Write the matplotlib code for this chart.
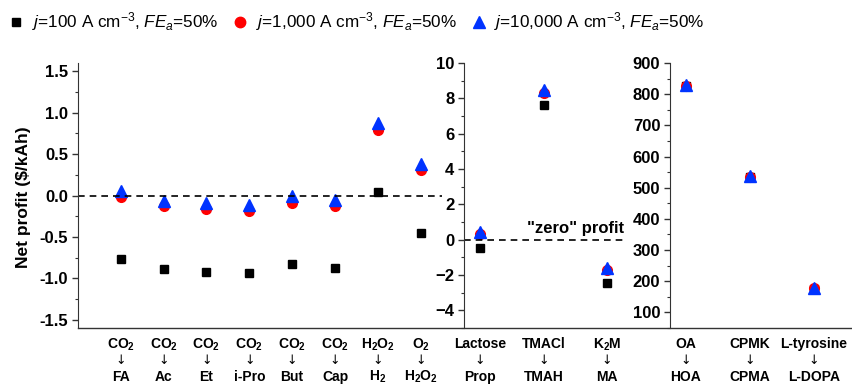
import matplotlib
matplotlib.use('Agg')
import matplotlib.pyplot as plt
from matplotlib.lines import Line2D
from matplotlib.ticker import MultipleLocator, FormatStrFormatter

plt.rcParams['font.family'] = ['Liberation Sans', 'DejaVu Sans']
plt.rcParams['mathtext.fontset'] = 'custom'
plt.rcParams['mathtext.rm'] = 'Liberation Sans'
plt.rcParams['mathtext.it'] = 'Liberation Sans:italic'
plt.rcParams['mathtext.bf'] = 'Liberation Sans:bold'

# panel 1: CO2 / O2 / H2O2 reactions
top1 = [r'$\mathbf{CO_2}$'] * 6 + [r'$\mathbf{H_2O_2}$', r'$\mathbf{O_2}$']
bot1 = ['FA', 'Ac', 'Et', 'i-Pro', 'But', 'Cap', r'$\mathbf{H_2}$', r'$\mathbf{H_2O_2}$']
sq1 = [-0.77, -0.89, -0.92, -0.94, -0.83, -0.88, 0.04, -0.45]
ci1 = [-0.02, -0.13, -0.16, -0.19, -0.085, -0.13, 0.79, 0.31]
tr1 = [0.06, -0.07, -0.085, -0.11, 0.0, -0.05, 0.87, 0.38]

# panel 2
top2 = ['Lactose', 'TMACl', r'$\mathbf{K_2M}$']
bot2 = ['Prop', 'TMAH', 'MA']
sq2 = [-0.45, 7.6, -2.47]
ci2 = [0.3, 8.3, -1.73]
tr2 = [0.43, 8.5, -1.6]

# panel 3
top3 = ['OA', 'CPMK', 'L-tyrosine']
bot3 = ['HOA', 'CPMA', 'L-DOPA']
sq3 = [826, 533, 176]
ci3 = [827, 534, 177]
tr3 = [829, 536, 179]

legend_labels = [r'$\mathit{j}$=100 A cm$^{-3}$, $\mathit{FE_a}$=50%',
                 r'$\mathit{j}$=1,000 A cm$^{-3}$, $\mathit{FE_a}$=50%',
                 r'$\mathit{j}$=10,000 A cm$^{-3}$, $\mathit{FE_a}$=50%']

W, H = 852, 386
fig = plt.figure(figsize=(W / 100, H / 100), dpi=100)
bottom = (H - 328) / H
height = (328 - 63) / H
ax1 = fig.add_axes([78 / W, bottom, (442 - 78) / W, height])
ax2 = fig.add_axes([464 / W, bottom, (625 - 464) / W, height])
ax3 = fig.add_axes([670 / W, bottom, (852 - 670) / W, height])

panels = [
    (ax1, top1, bot1, sq1, ci1, tr1, (0, 8.5), (-1.6, 1.6), 0.5, 0.25),
    (ax2, top2, bot2, sq2, ci2, tr2, (0.75, 3.28), (-5, 10), 2, 1),
    (ax3, top3, bot3, sq3, ci3, tr3, (0.75, 3.6), (50, 900), 100, 50),
]

for ax, top, bot, sq, ci, tr, xl, yl, major, minor in panels:
    x = list(range(1, len(top) + 1))
    ax.plot(x, sq, 's', color='black', markersize=5.5, linestyle='none')
    ax.plot(x, ci, 'o', color='red', markersize=7, linestyle='none')
    ax.plot(x, tr, '^', color='#0033ff', markersize=8, linestyle='none')
    ax.set_xlim(*xl)
    ax.set_ylim(*yl)
    ax.yaxis.set_major_locator(MultipleLocator(major))
    ax.yaxis.set_minor_locator(MultipleLocator(minor))
    if ax is ax1:
        ax.yaxis.set_major_formatter(FormatStrFormatter('%.1f'))
    ax.set_xticks([])
    for s in ['top', 'right', 'bottom']:
        ax.spines[s].set_visible(False)
    ax.spines['left'].set_color('#333333')
    ax.tick_params(axis='y', which='major', direction='out', length=4, width=1,
                   labelsize=12, color='#333333', pad=3)
    ax.tick_params(axis='y', which='minor', direction='out', length=2, width=0.8,
                   color='#333333')
    for lab in ax.get_yticklabels():
        lab.set_fontweight('bold')
    trans = ax.get_xaxis_transform()
    for xi, t, b in zip(x, top, bot):
        ax.text(xi, -0.062, t, transform=trans, ha='center', va='center',
                fontsize=10, fontweight='bold', clip_on=False)
        ax.text(xi, -0.124, u'\u2193', transform=trans, ha='center', va='center',
                fontsize=9, family='DejaVu Sans', clip_on=False)
        ax.text(xi, -0.184, b, transform=trans, ha='center', va='center',
                fontsize=10, fontweight='bold', clip_on=False)

ax1.axhline(0, color='black', linestyle=(0, (4, 3)), linewidth=1.2)
ax2.axhline(0, color='black', linestyle=(0, (4, 3)), linewidth=1.2)
ax2.text(3.27, 0.2, '"zero" profit', ha='right', va='bottom',
         fontsize=12, fontweight='bold')

# continuous bottom axis line
fig.add_artist(Line2D([78 / W, 1], [bottom, bottom], color='#333333', linewidth=1,
                      transform=fig.transFigure))

fig.text(24 / W, 1 - 197 / H, 'Net profit ($/kAh)', rotation=90, ha='center',
         va='center', fontsize=12.5, fontweight='bold')

handles = [Line2D([], [], marker='s', color='black', linestyle='none', markersize=6),
           Line2D([], [], marker='o', color='red', linestyle='none', markersize=7.5),
           Line2D([], [], marker='^', color='#0033ff', linestyle='none', markersize=8.5)]
fig.legend(handles, legend_labels, loc='upper left', bbox_to_anchor=(-0.005, 1.0),
           ncol=3, frameon=False, fontsize=12.3, handletextpad=0.3,
           columnspacing=0.7, handlelength=1.2, borderaxespad=0.2)

fig.savefig('out.png', dpi=100)
